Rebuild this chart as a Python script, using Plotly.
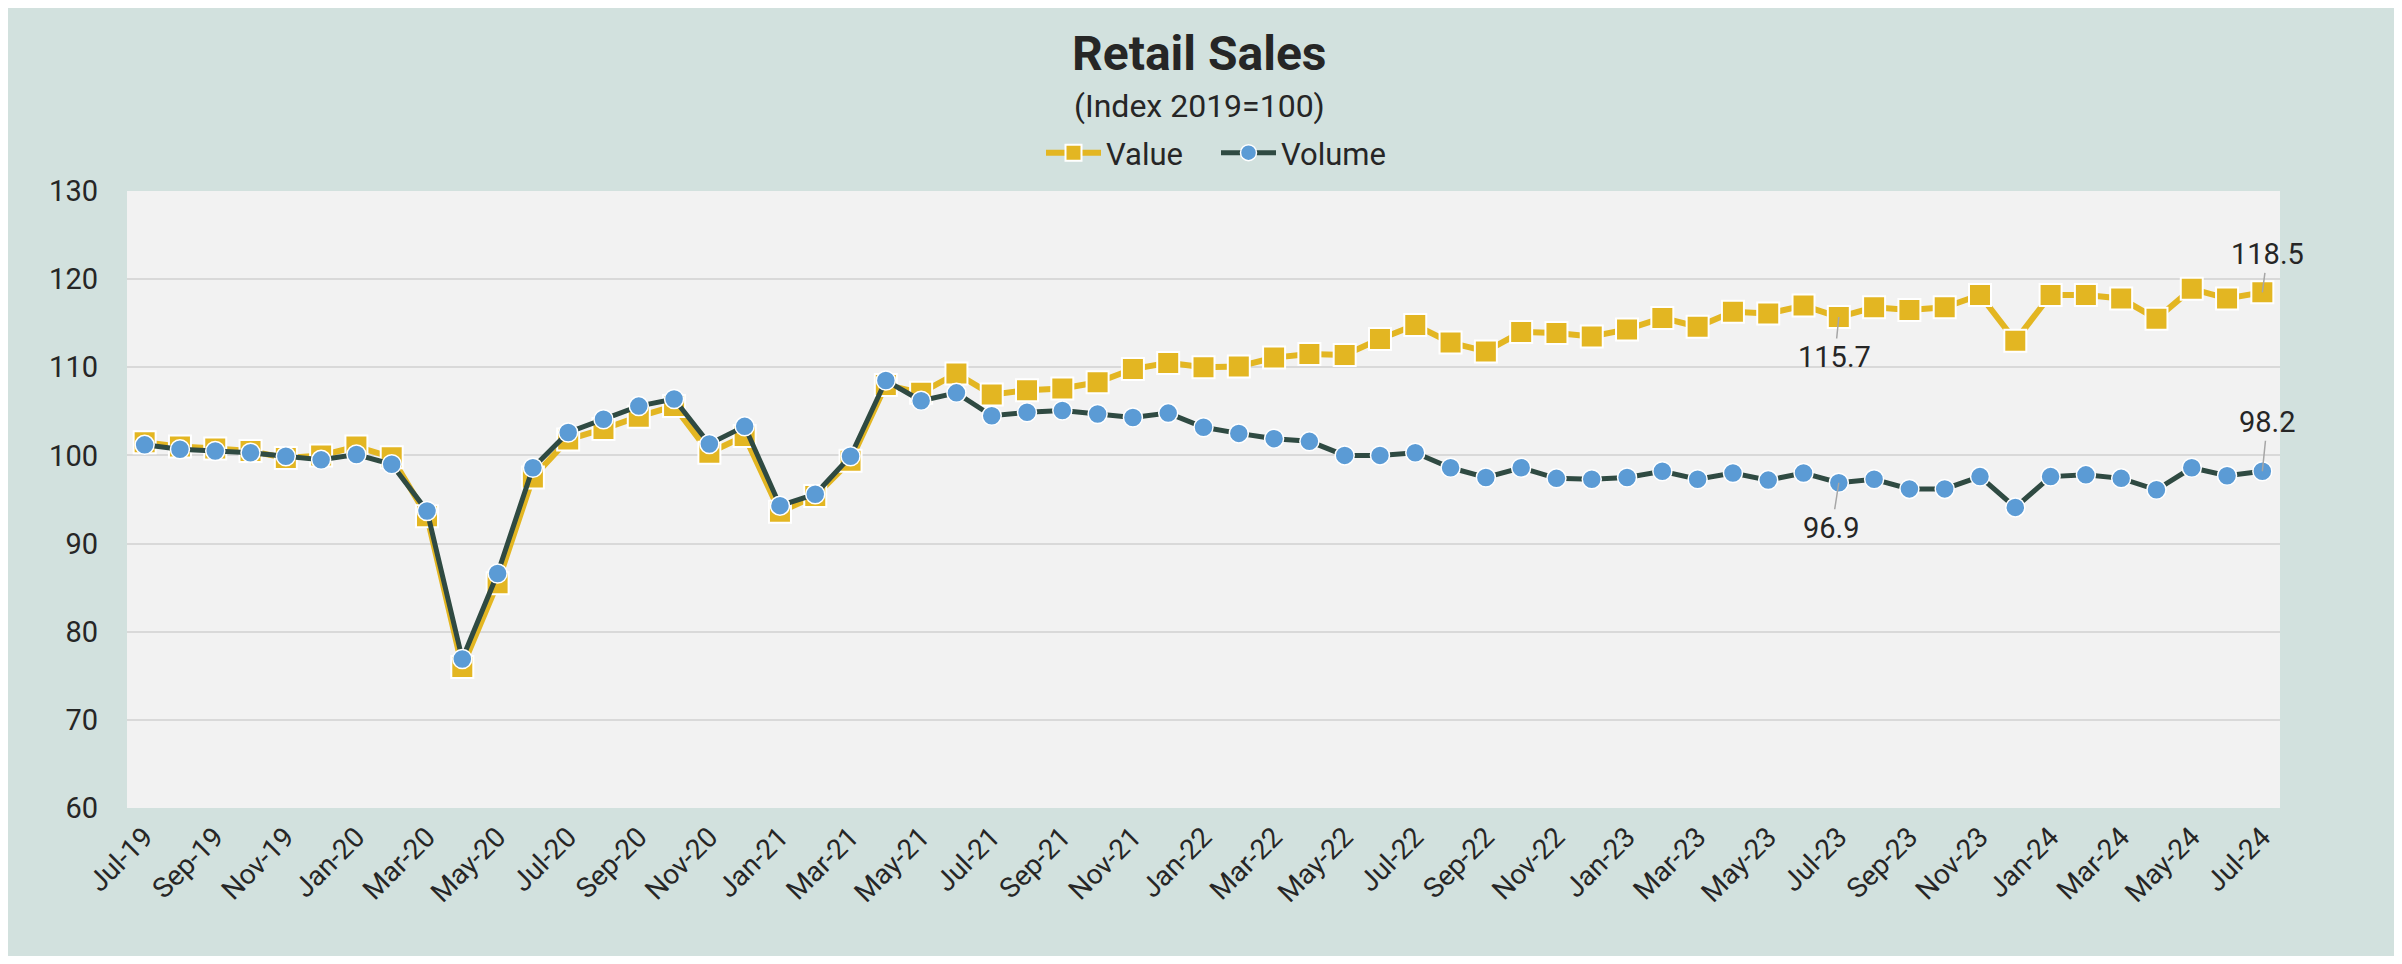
import plotly.graph_objects as go

months = ["Jul-19","Aug-19","Sep-19","Oct-19","Nov-19","Dec-19","Jan-20","Feb-20","Mar-20","Apr-20","May-20","Jun-20",
          "Jul-20","Aug-20","Sep-20","Oct-20","Nov-20","Dec-20","Jan-21","Feb-21","Mar-21","Apr-21","May-21","Jun-21",
          "Jul-21","Aug-21","Sep-21","Oct-21","Nov-21","Dec-21","Jan-22","Feb-22","Mar-22","Apr-22","May-22","Jun-22",
          "Jul-22","Aug-22","Sep-22","Oct-22","Nov-22","Dec-22","Jan-23","Feb-23","Mar-23","Apr-23","May-23","Jun-23",
          "Jul-23","Aug-23","Sep-23","Oct-23","Nov-23","Dec-23","Jan-24","Feb-24","Mar-24","Apr-24","May-24","Jun-24","Jul-24"]

value = [101.5,101.0,100.8,100.5,99.7,100.0,101.0,99.8,93.1,76.0,85.5,97.5,
         101.8,103.0,104.4,105.6,100.3,102.2,93.6,95.4,99.4,108.0,107.1,109.3,
         106.9,107.4,107.6,108.3,109.8,110.5,110.0,110.1,111.1,111.5,111.4,113.2,
         114.8,112.8,111.8,114.0,113.9,113.5,114.3,115.6,114.6,116.3,116.1,117.0,
         115.7,116.8,116.5,116.8,118.2,113.0,118.2,118.2,117.8,115.5,118.9,117.8,118.5]

volume = [101.2,100.7,100.5,100.3,99.9,99.5,100.1,99.0,93.7,76.9,86.6,98.6,
          102.6,104.1,105.6,106.4,101.3,103.3,94.3,95.6,99.9,108.5,106.2,107.1,
          104.5,104.9,105.1,104.7,104.3,104.8,103.2,102.5,101.9,101.6,100.0,100.0,
          100.3,98.6,97.5,98.6,97.4,97.3,97.5,98.2,97.3,98.0,97.2,98.0,
          96.9,97.3,96.2,96.2,97.6,94.1,97.6,97.8,97.4,96.1,98.6,97.7,98.2]

tick_labels = months[::2]
y_ticks = [60, 70, 80, 90, 100, 110, 120, 130]

# labelled points: (series values, month, x offset px, y offset px)
labelled = [
    (value, "Jul-24", 5, -38),
    (volume, "Jul-24", 5, -49),
    (value, "Jul-23", -4, 40),
    (volume, "Jul-23", -7, 45),
]

GOLD = "#E3B622"
DARK = "#2F4A42"
BLUE = "#5B9BD5"
TEAL = "#D2E1DE"
TEXT = "#262626"
FONT = "Roboto, Noto Sans, sans-serif"

fig = go.Figure()
fig.add_trace(go.Scatter(
    x=months, y=value, name="Value", mode="lines+markers",
    line=dict(color=GOLD, width=6),
    marker=dict(symbol="square", size=22, color=GOLD, line=dict(color="white", width=2)),
))
fig.add_trace(go.Scatter(
    x=months, y=volume, name="Volume", mode="lines+markers",
    line=dict(color=DARK, width=5),
    marker=dict(symbol="circle", size=19, color=BLUE, line=dict(color="white", width=1.5)),
))

OFF = 8  # page body margin
W, H = 2402 - 2 * OFF, 964 - 2 * OFF
L, T = 127 - OFF, 191 - OFF
R = W - (2280 - OFF)
B = H - (808 - OFF)
pw, ph = W - L - R, H - T - B

def py(page_px):
    return (H - B - (page_px - OFF)) / ph

def px(page_px):
    return (page_px - OFF - L) / pw

annotations = [
    dict(text="<b>Retail Sales</b>", x=px(1199), y=py(54), xref="paper", yref="paper",
         showarrow=False, xanchor="center", yanchor="middle",
         font=dict(family=FONT, size=48, color=TEXT)),
    dict(text="(Index 2019=100)", x=px(1199), y=py(106), xref="paper", yref="paper",
         showarrow=False, xanchor="center", yanchor="middle",
         font=dict(family=FONT, size=32, color=TEXT)),
]
for series, m, dx, dy in labelled:
    i = months.index(m)
    annotations.append(dict(
        x=m, y=series[i], xref="x", yref="y", text=f"{series[i]:.1f}",
        showarrow=True, arrowhead=0, arrowwidth=1.5, arrowcolor="#A6A6A6",
        ax=dx, ay=dy, standoff=0, xanchor="center", yanchor="middle",
        font=dict(family=FONT, size=29, color=TEXT),
    ))

fig.update_layout(
    width=W, height=H,
    margin=dict(l=L, r=R, t=T, b=B, pad=0),
    paper_bgcolor=TEAL, plot_bgcolor="#F2F2F2",
    font=dict(family=FONT, color=TEXT, size=28),
    showlegend=True,
    legend=dict(orientation="h", x=px(1041), xanchor="left",
                y=py(153), yanchor="middle", bgcolor="rgba(0,0,0,0)",
                font=dict(family=FONT, size=31, color=TEXT), itemwidth=55,
                entrywidth=105, entrywidthmode="pixels",
                traceorder="normal"),
    annotations=annotations,
)
fig.update_xaxes(
    type="category", categoryorder="array", categoryarray=months,
    range=[-0.5, len(months) - 0.5], tickmode="array",
    tickvals=tick_labels, ticktext=tick_labels, tickangle=-45,
    showgrid=False, zeroline=False, showline=False, ticks="",
    tickfont=dict(family=FONT, size=28, color=TEXT), automargin=False,
    ticklabelstandoff=6,
)
fig.update_yaxes(
    range=[60, 130], tickvals=y_ticks, showgrid=True, gridcolor="#D9D9D9", gridwidth=2,
    zeroline=False, showline=False, ticks="",
    tickfont=dict(family=FONT, size=29, color=TEXT), automargin=False,
    ticklabelstandoff=28,
)

fig.write_html("out.html")
